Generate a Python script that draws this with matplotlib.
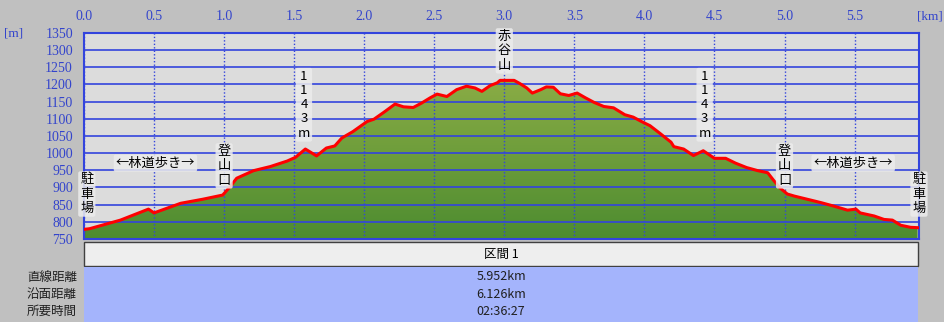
import numpy as np
import matplotlib.pyplot as plt
from matplotlib.colors import LinearSegmentedColormap
from matplotlib.patches import Rectangle

plt.rcParams['font.family'] = ['Noto Sans CJK JP', 'DejaVu Sans']

# elevation profile
dist_km = [0.00, 0.04, 0.26, 0.46, 0.50, 0.69, 0.85, 0.99, 1.04, 1.09, 1.21, 1.33,
           1.45, 1.51, 1.58, 1.66, 1.73, 1.79, 1.84, 1.92, 2.02, 2.07, 2.14, 2.22,
           2.28, 2.35, 2.41, 2.47, 2.52, 2.59, 2.66, 2.73, 2.79, 2.84, 2.90, 2.95,
           2.97, 3.07, 3.11, 3.16, 3.20, 3.26, 3.30, 3.35, 3.40, 3.46, 3.52, 3.58,
           3.64, 3.71, 3.78, 3.86, 3.92, 3.98, 4.04, 4.11, 4.19, 4.21, 4.28, 4.35,
           4.42, 4.50, 4.58, 4.65, 4.73, 4.81, 4.88, 4.92, 4.97, 5.02, 5.07, 5.17,
           5.26, 5.35, 5.45, 5.51, 5.54, 5.64, 5.71, 5.77, 5.83, 5.90, 5.95]
elev_m = [778, 780, 805, 837, 826, 854, 866, 878, 901, 927, 949, 961,
          977, 988, 1012, 992, 1015, 1021, 1044, 1063, 1092, 1099, 1119, 1143,
          1135, 1133, 1146, 1161, 1172, 1165, 1185, 1195, 1190, 1180, 1197, 1205,
          1212, 1212, 1203, 1190, 1175, 1185, 1193, 1192, 1173, 1168, 1175, 1161,
          1148, 1136, 1132, 1112, 1105, 1092, 1080, 1058, 1032, 1019, 1012, 993,
          1007, 985, 985, 971, 958, 949, 943, 922, 898, 881, 875, 865,
          856, 846, 834, 837, 826, 817, 807, 805, 790, 784, 783]

x_ticks = [0.0, 0.5, 1.0, 1.5, 2.0, 2.5, 3.0, 3.5, 4.0, 4.5, 5.0, 5.5]
y_ticks = list(range(750, 1351, 50))

# labels placed on the profile: (km, elevation, text)
marks = [
    (0.02, 881, '駐\n車\n場'),
    (0.51, 971, '←林道歩き→'),
    (1.00, 963, '登\n山\n口'),
    (1.57, 1141, '1\n1\n4\n3\nm'),
    (3.00, 1298, '赤\n谷\n山'),
    (4.43, 1141, '1\n1\n4\n3\nm'),
    (5.00, 963, '登\n山\n口'),
    (5.49, 971, '←林道歩き→'),
    (5.96, 881, '駐\n車\n場'),
]

table_header = '区間 1'
row_labels = ['直線距離', '沿面距離', '所要時間']
row_values = ['5.952km', '6.126km', '02:36:27']

W, H = 945, 322
fig = plt.figure(figsize=(W / 100, H / 100), dpi=100)
fig.patch.set_facecolor('#c0c0c0')

# background layer in pixel coordinates for the table
bg = fig.add_axes([0, 0, 1, 1], zorder=0)
bg.set_xlim(0, W)
bg.set_ylim(H, 0)
bg.axis('off')
bg.add_patch(Rectangle((84, 242), 834, 24, fc='#eeeeee', ec='#404040', lw=1))
bg.add_patch(Rectangle((84, 267), 834, 60, fc='#a4b4fc', ec='none'))
bg.text(501, 254, table_header, ha='center', va='center', fontsize=9, color='black')
for i, (lab, val) in enumerate(zip(row_labels, row_values)):
    yy = 277 + i * 17.3
    bg.text(77, yy, lab, ha='right', va='center', fontsize=9, color='#202020')
    bg.text(501, yy, val, ha='center', va='center', fontsize=9, color='#202020')
bg.text(4, 33, '[m]', ha='left', va='center', fontsize=9.5, color='#3344cc',
        family='Liberation Serif')
bg.text(943, 16, '[km]', ha='right', va='center', fontsize=9.5, color='#3344cc',
        family='Liberation Serif')

# profile axes
x0, x1, y0, y1 = 84, 919, 33, 239
ax = fig.add_axes([x0 / W, 1 - y1 / H, (x1 - x0) / W, (y1 - y0) / H], zorder=1)
ax.set_facecolor('#dcdcdc')

for xv in x_ticks:
    ax.axvline(xv, color='#3344dd', lw=1, ls=(0, (1, 1.5)), zorder=3)

# gradient fill under the profile
poly = ax.fill_between(dist_km, elev_m, 750, color='none', zorder=2)
cmap = LinearSegmentedColormap.from_list('g', ['#4d8c30', '#8aac45'])
grad = np.linspace(0, 1, 256).reshape(-1, 1)
img = ax.imshow(grad, cmap=cmap, origin='lower', aspect='auto',
                extent=[0, 5.96, 750, max(elev_m)], zorder=2)
img.set_clip_path(poly.get_paths()[0], transform=ax.transData)
for yv in y_ticks:
    ax.axhline(yv, color='#3344dd', lw=1.2, zorder=3)
ax.set_xlim(0, 5.96)
ax.set_ylim(750, 1350)
ax.plot(dist_km, elev_m, color='#ff0000', lw=2.2, zorder=4)

for xk, ye, txt in marks:
    ax.text(xk, ye, txt, ha='center', va='center', fontsize=9.5, linespacing=1.12,
            color='black', zorder=6, clip_on=False,
            bbox=dict(boxstyle='round,pad=0.15', fc='#ececec', ec='none', alpha=0.85))

ax.xaxis.tick_top()
ax.set_xticks(x_ticks)
ax.set_xticklabels(['%.1f' % v for v in x_ticks])
ax.set_yticks(y_ticks)
ax.tick_params(length=0, colors='#3344cc', labelsize=10, pad=8)
for lbl in ax.get_xticklabels() + ax.get_yticklabels():
    lbl.set_family('Liberation Serif')
ax.tick_params(axis='x', pad=7)
for sp in ax.spines.values():
    sp.set_color('#3344dd')
    sp.set_linewidth(1.5)

fig.savefig('out.png', dpi=100, facecolor=fig.get_facecolor())
